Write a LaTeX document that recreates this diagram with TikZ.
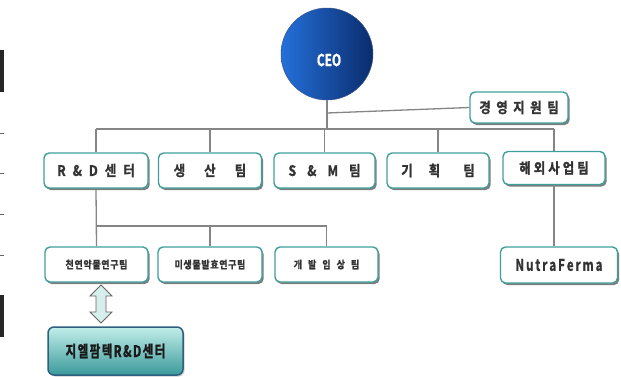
\documentclass[tikz,border=0pt]{standalone}
\usepackage{fontspec}
\newfontfamily\krb{Noto Sans CJK KR Bold}[FakeStretch=0.86, FakeBold=1.2]
\newfontfamily\krs{Noto Sans CJK KR Bold}[FakeStretch=0.86, FakeBold=1.2, LetterSpace=6]
\newfontfamily\krn{Noto Sans CJK KR Bold}[FakeStretch=0.72, FakeBold=1.2]
\newfontfamily\krg{Noto Sans CJK KR Bold}[FakeStretch=0.72, FakeBold=1.2, LetterSpace=9]
\usetikzlibrary{shadows}
\definecolor{tealb}{HTML}{3F9F9B}
\definecolor{linec}{HTML}{858585}
\definecolor{txt}{HTML}{333333}
\definecolor{ceoL}{HTML}{2470DA}
\definecolor{ceoR}{HTML}{0A2C6C}
\definecolor{glborder}{HTML}{2E5F80}
\definecolor{gltop}{HTML}{C2EEEA}
\definecolor{glbot}{HTML}{3A9A9A}
\definecolor{arrf}{HTML}{D6EEEC}
\tikzset{
  box/.style={draw=tealb, line width=1.4pt, rounded corners=5pt, fill=white,
    drop shadow={shadow xshift=1.6pt, shadow yshift=-2pt, fill=black!60, opacity=0.85},
    font=\krb\fontsize{14.5}{14.5}\selectfont, text=txt, inner sep=0pt},
  smallbox/.style={box, font=\krs\fontsize{10.5}{10.5}\selectfont},
  conn/.style={draw=linec, line width=1.3pt},
}
\begin{document}
\begin{tikzpicture}[x=1pt,y=-1pt]
\useasboundingbox (0,0) rectangle (621,376);
% left edge fragments
\fill[black!85] (0,50) rectangle (4,92);
\fill[black!85] (0,295) rectangle (4,337);
\foreach \yy in {133,173,214,255} \draw[black!60, line width=0.8pt] (0,\yy) -- (4,\yy);

% CEO
\node[circle, minimum size=92pt, inner sep=0pt, left color=ceoL, right color=ceoR,
      draw=ceoR!80, line width=0.5pt] (ceo) at (327,54) {};
\node[text=white, font=\krn\fontsize{16.5}{16.5}\selectfont] (ceot) at (329,60) {CEO};

% coordinates
\coordinate (jb) at (327,113);
\coordinate (bar) at (327,129);

% support team
\node[box, minimum width=98pt, minimum height=31pt] (sup) at (519,107.5) {경\hspace{5.5pt}영\hspace{5.5pt}지\hspace{5.5pt}원\hspace{5.5pt}팀};

% level 2
\node[box, minimum width=104pt, minimum height=35pt] (rd) at (96,170.5) {R\hspace{7pt}\&\hspace{7pt}D\hspace{7pt}센\hspace{7pt}터};
\node[box, minimum width=103pt, minimum height=35pt] (prod) at (210,170.5) {생\hspace{19pt}산\hspace{19pt}팀};
\node[box, minimum width=101pt, minimum height=35pt] (sm) at (324.5,170.5) {S\hspace{11pt}\&\hspace{11pt}M\hspace{11pt}팀};
\node[box, minimum width=102pt, minimum height=35pt] (plan) at (438,170.5) {기\hspace{16pt}획\hspace{23pt}팀};
\node[box, minimum width=102pt, minimum height=33pt] (intl) at (554,168) {해\hspace{3pt}외\hspace{3pt}사\hspace{3pt}업\hspace{3pt}팀};

% level 3
\node[smallbox, minimum width=103pt, minimum height=35pt] (nat) at (96.5,264.5) {천연약물연구팀};
\node[smallbox, minimum width=104pt, minimum height=35pt] (mic) at (210,264.5) {미생물발효연구팀};
\node[smallbox, minimum width=103pt, minimum height=35pt, font=\krb\fontsize{10.5}{10.5}\selectfont] (dev) at (326.5,264.5) {개\hspace{6pt}발\hspace{6pt}임\hspace{6pt}상\hspace{6pt}팀};
\node[box, minimum width=117pt, minimum height=36pt, font=\krn\fontsize{16}{16}\selectfont] (nf) at (559,265) {N\hspace{2pt}u\hspace{2pt}t\hspace{2pt}r\hspace{2pt}a\hspace{2pt}F\hspace{2pt}e\hspace{2pt}r\hspace{2pt}m\hspace{2pt}a};

% GL Pharmtech R&D
\node[draw=glborder, line width=1.5pt, rounded corners=6pt, top color=gltop, bottom color=glbot,
      minimum width=135pt, minimum height=48pt, inner sep=0pt, text=black!90,
      font=\krg\fontsize{16}{16}\selectfont,
      drop shadow={shadow xshift=1.5pt, shadow yshift=-1.5pt, fill=black!40}] (gl) at (115.5,351) {지엘팜텍R\&D센터};

% double arrow (between nat and gl)
\draw[draw=black!60, line width=0.9pt, fill=arrf, line join=miter]
  (101,285) -- (112,296) -- (106,296) -- (106,312) -- (112,312) -- (101,323)
  -- (90,312) -- (96,312) -- (96,296) -- (90,296) -- cycle;

% connectors
\draw[conn] (ceo.south) -- (bar);
\draw[conn] (jb) -- (sup.west);
\draw[conn] (rd.north |- bar) -- (intl.north |- bar);
\foreach \n in {rd,prod,sm,plan,intl} \draw[conn] (\n.north |- bar) -- (\n.north);
\coordinate (bar2) at (96,226);
\draw[conn] (rd.south) -- (nat.north);
\draw[conn] (nat.north |- bar2) -- (dev.north |- bar2);
\draw[conn] (mic.north |- bar2) -- (mic.north);
\draw[conn] (dev.north |- bar2) -- (dev.north);
\draw[conn] (intl.south) -- (nf.north -| intl.south);
\end{tikzpicture}
\end{document}
